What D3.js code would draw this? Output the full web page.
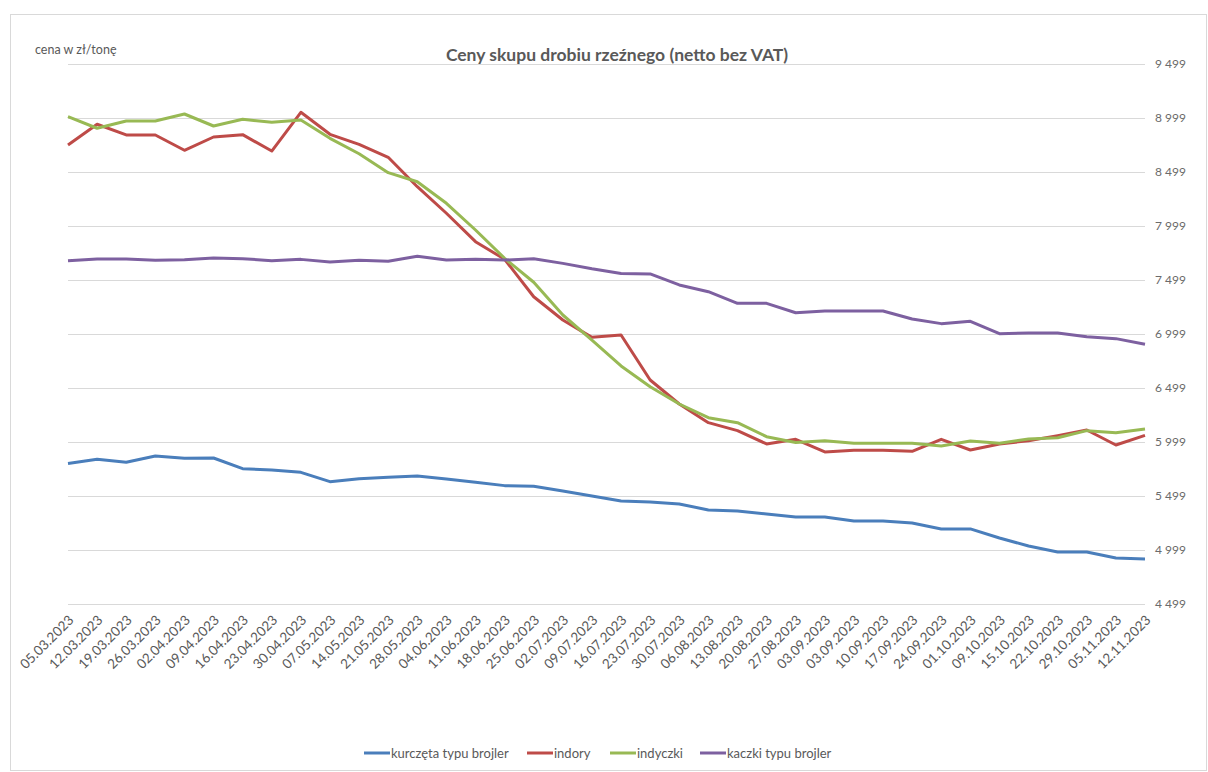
<!DOCTYPE html>
<html>
<head>
<meta charset="utf-8">
<script src="https://cdn.jsdelivr.net/npm/d3@7"></script>
<style>
  body { margin: 0; background: #fff; }
  text { font-family: Lato, "Open Sans", sans-serif; }
</style>
</head>
<body>
<script>
var width = 1208, height = 772;

// tygodnie notowań
var dates = ["05.03.2023","12.03.2023","19.03.2023","26.03.2023","02.04.2023","09.04.2023",
  "16.04.2023","23.04.2023","30.04.2023","07.05.2023","14.05.2023","21.05.2023","28.05.2023",
  "04.06.2023","11.06.2023","18.06.2023","25.06.2023","02.07.2023","09.07.2023","16.07.2023",
  "23.07.2023","30.07.2023","06.08.2023","13.08.2023","20.08.2023","27.08.2023","03.09.2023",
  "03.09.2023","10.09.2023","17.09.2023","24.09.2023","01.10.2023","09.10.2023","15.10.2023",
  "22.10.2023","29.10.2023","05.11.2023","12.11.2023"];

var kurczeta = [5800,5839,5811,5869,5848,5851,5752,5740,5718,5632,5659,5672,5684,5656,5626,
  5595,5590,5545,5499,5453,5444,5425,5370,5360,5332,5305,5305,5268,5268,5249,5194,5194,
  5110,5036,4981,4981,4925,4916];
var indory = [8749,8941,8842,8842,8700,8823,8845,8693,9052,8848,8755,8635,8363,8117,7854,
  7691,7344,7129,6968,6990,6573,6351,6178,6104,5981,6024,5907,5922,5922,5913,6024,5925,
  5981,6011,6058,6110,5971,6061];
var indyczki = [9011,8904,8971,8971,9036,8925,8987,8959,8980,8811,8668,8493,8409,8209,7962,
  7700,7478,7175,6943,6703,6511,6351,6224,6178,6048,5995,6011,5987,5987,5987,5962,6008,
  5987,6027,6039,6104,6085,6119];
var kaczki = [7678,7693,7693,7681,7687,7703,7696,7678,7690,7666,7683,7672,7718,7684,7690,
  7684,7695,7653,7603,7560,7555,7453,7391,7283,7283,7196,7212,7212,7212,7138,7095,7117,
  7002,7008,7008,6974,6956,6904];

var seriesNames = ["kurczęta typu brojler","indory","indyczki","kaczki typu brojler"];
var seriesColors = ["#4A7EBB","#BE4B48","#98B954","#7D60A0"];
var yTicks = [4499,4999,5499,5999,6499,6999,7499,7999,8499,8999,9499];

var allSeries = [kurczeta, indory, indyczki, kaczki];

var svg = d3.select("body").append("svg")
  .attr("width", width)
  .attr("height", height);

// ramka wykresu
svg.append("rect")
  .attr("x", 10.5).attr("y", 14.5)
  .attr("width", 1196).attr("height", 756)
  .attr("fill", "none")
  .attr("stroke", "#d9d9d9");

var x = d3.scalePoint()
  .domain(d3.range(dates.length))
  .range([68, 1145]);

var y = d3.scaleLinear()
  .domain([4499, 9499])
  .range([604, 64]);

var fmt = d3.formatLocale({decimal: ",", thousands: " ", grouping: [3], currency: ["", " zł"]}).format(",d");

// siatka
svg.append("g").selectAll("line")
  .data(yTicks)
  .join("line")
  .attr("x1", 68).attr("x2", 1145)
  .attr("y1", d => Math.round(y(d)) + 0.5)
  .attr("y2", d => Math.round(y(d)) + 0.5)
  .attr("stroke", "#d9d9d9")
  .attr("stroke-width", 1);

// oś Y po prawej
var yAxis = svg.append("g")
  .attr("transform", "translate(1145,0)")
  .call(d3.axisRight(y).tickValues(yTicks).tickSize(0).tickPadding(10).tickFormat(fmt));
yAxis.select(".domain").remove();
yAxis.selectAll("text")
  .attr("fill", "#6b6b6b")
  .style("font-size", "12px")
  .style("font-family", "Lato, sans-serif");

// oś X
var xAxis = svg.append("g")
  .attr("transform", "translate(0,604)")
  .call(d3.axisBottom(x).tickSize(0).tickFormat(i => dates[i]));
xAxis.select(".domain").remove();
xAxis.selectAll("text")
  .attr("fill", "#595959")
  .style("font-size", "13.5px")
  .style("font-family", "Lato, sans-serif")
  .attr("text-anchor", "end")
  .attr("dy", null)
  .attr("y", 0)
  .attr("transform", "translate(6,17) rotate(-45)");

// linie
var line = d3.line()
  .x((d, i) => x(i))
  .y(d => y(d));

svg.append("g").selectAll("path")
  .data(allSeries)
  .join("path")
  .attr("d", d => line(d))
  .attr("fill", "none")
  .attr("stroke", (d, i) => seriesColors[i])
  .attr("stroke-width", 3)
  .attr("stroke-linejoin", "round");

// tytuł
svg.append("text")
  .attr("x", 617).attr("y", 61)
  .attr("text-anchor", "middle")
  .attr("fill", "#595959")
  .style("font-size", "17.5px")
  .style("font-weight", "bold")
  .text("Ceny skupu drobiu rzeźnego (netto bez VAT)");

svg.append("text")
  .attr("x", 35).attr("y", 54)
  .attr("fill", "#595959")
  .style("font-size", "12.5px")
  .text("cena w zł/tonę");

// legenda
var legendX = [364, 527, 610, 700];
var legend = svg.append("g").selectAll("g")
  .data(seriesNames)
  .join("g")
  .attr("transform", (d, i) => "translate(" + legendX[i] + ",753)");
legend.append("line")
  .attr("x1", 0).attr("x2", 26)
  .attr("y1", 0).attr("y2", 0)
  .attr("stroke", (d, i) => seriesColors[i])
  .attr("stroke-width", 3);
legend.append("text")
  .attr("x", 27).attr("y", 5)
  .attr("fill", "#595959")
  .style("font-size", "13px")
  .text(d => d);
</script>
</body>
</html>
